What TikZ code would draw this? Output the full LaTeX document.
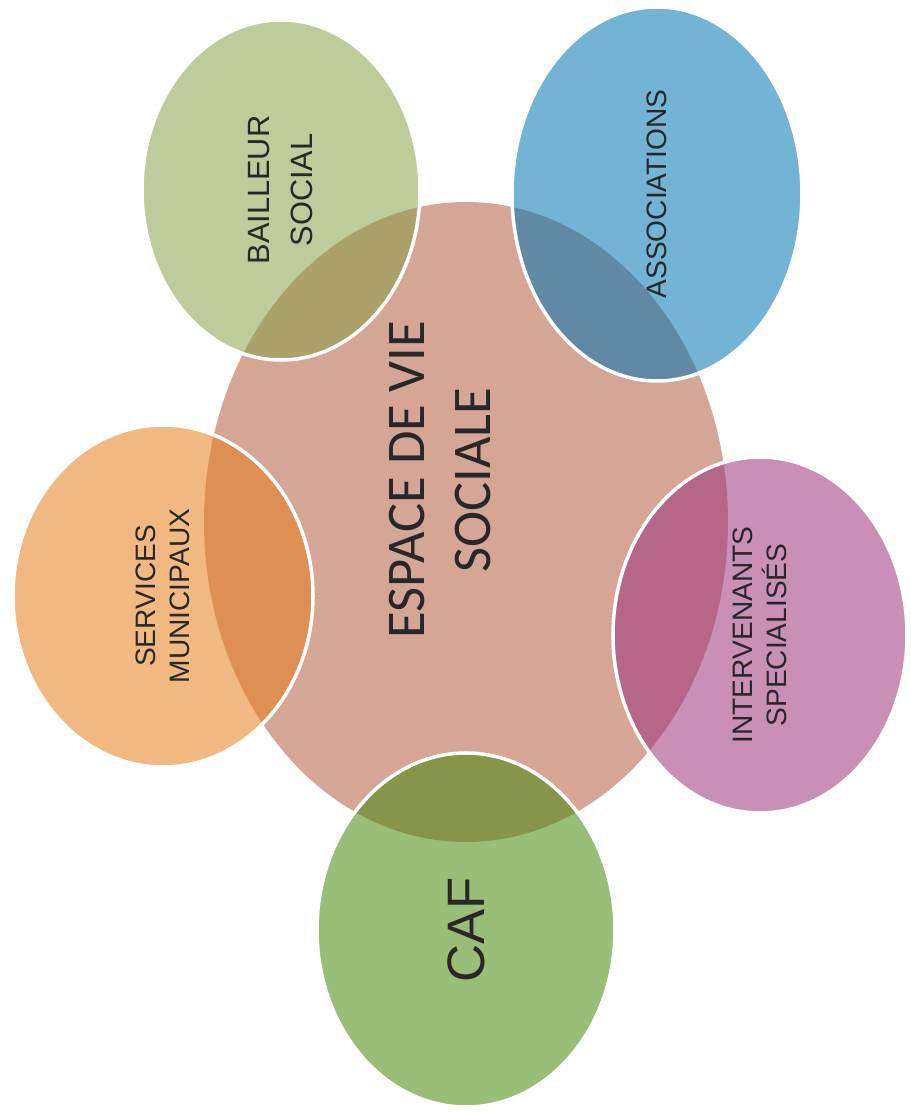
\documentclass[tikz,border=0pt]{standalone}
\usepackage{fontspec}
\setmainfont{Liberation Sans}
\newfontfamily\hubfont{Carlito}
\usetikzlibrary{shapes.geometric}

\definecolor{hubpink}{RGB}{213,165,150}
\definecolor{bailgreen}{RGB}{137,160,73}
\definecolor{assocblue}{RGB}{0,117,177}
\definecolor{servorange}{RGB}{230,126,28}
\definecolor{intermauve}{RGB}{157,51,121}
\definecolor{cafgreen}{RGB}{70,137,10}
\definecolor{labelgray}{RGB}{40,40,40}

% rotate=90: minimum width is the vertical size, minimum height the horizontal one
\tikzset{
	hub/.style={ellipse, fill=hubpink, inner sep=0pt, minimum width=10.48cm, minimum height=12.8cm},
	hubtext/.style={rotate=90, align=center, text=labelgray, font=\hubfont\fontsize{31}{37.5}\selectfont},
	partner/.style={ellipse, rotate=90, draw=white, line width=2pt, fill opacity=0.55, text opacity=1,
		inner sep=0pt, align=center, text=labelgray, font=\fontsize{16}{19.2}\selectfont},
}

\begin{document}
\begin{tikzpicture}
		%%%%% START %%%%%
		\useasboundingbox (0, 0) rectangle (18.22, 22.24);
		
		\node[hub] (hub) at (9.32, 11.80) {};
		\node[hubtext] (hublabel) at ([shift={(-0.52, 0.84)}]hub.center) {ESPACE DE VIE\\SOCIALE};
		
		\node[partner, fill=bailgreen, minimum width=6.8cm, minimum height=5.56cm, font=\fontsize{17.5}{24.5}\selectfont] (bailleur) at (5.62, 18.44) {BAILLEUR\\SOCIAL};
		\node[partner, fill=assocblue, minimum width=7.48cm, minimum height=5.8cm] (assoc) at (13.14, 18.36) {ASSOCIATIONS};
		\node[partner, fill=servorange, minimum width=6.84cm, minimum height=6.0cm] (services) at (3.26, 10.32) {SERVICES\\MUNICIPAUX};
		\node[partner, fill=intermauve, minimum width=7.12cm, minimum height=5.88cm] (interv) at (15.20, 9.54) {INTERVENANTS\\SPECIALISÉS};
		\node[partner, fill=cafgreen, minimum width=7.08cm, minimum height=5.96cm, font=\fontsize{30}{36}\selectfont] (caf) at (9.32, 3.64) {CAF};
		
		%%%%% END %%%%%
	\end{tikzpicture}
\end{document}
